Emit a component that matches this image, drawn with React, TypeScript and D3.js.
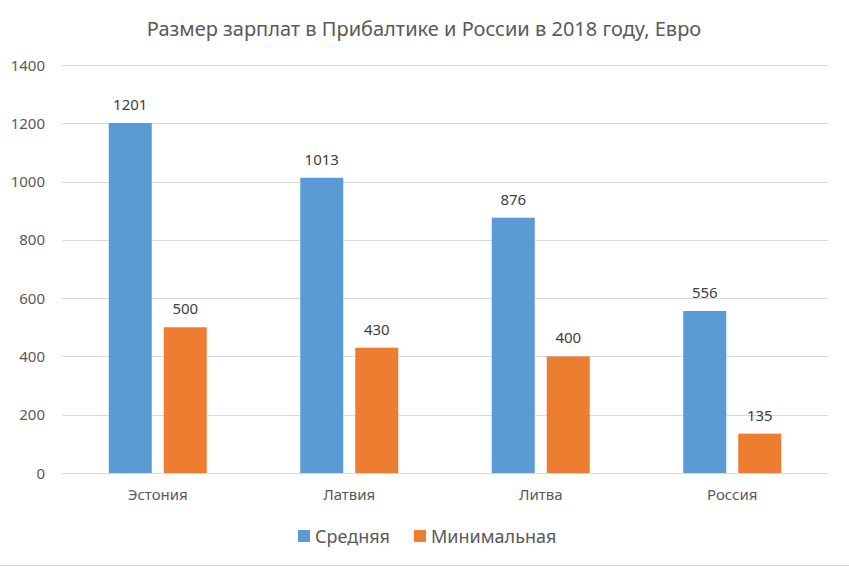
import { useEffect, useRef } from 'react';
import * as d3 from 'd3';

const countries = ['Эстония', 'Латвия', 'Литва', 'Россия'];
const seriesNames = ['Средняя', 'Минимальная'];
const avgSalary = [1201, 1013, 876, 556];
const minSalary = [500, 430, 400, 135];
const yTicks = [0, 200, 400, 600, 800, 1000, 1200, 1400];
const colors = ['#5B9BD5', '#ED7D31'];

const WIDTH = 849;
const HEIGHT = 567;
const FONT = '"Noto Sans", "Open Sans", sans-serif';

export default function App() {
  const svgRef = useRef<SVGSVGElement>(null);

  useEffect(() => {
    if (!svgRef.current) return;
    const svg = d3.select(svgRef.current);
    svg.selectAll('*').remove();

    const margin = { top: 65, right: 21, bottom: 94, left: 62 };
    const innerWidth = WIDTH - margin.left - margin.right;
    const innerHeight = HEIGHT - margin.top - margin.bottom;

    svg.append('rect').attr('width', WIDTH).attr('height', HEIGHT).attr('fill', '#fff');

    const g = svg.append('g').attr('transform', `translate(${margin.left}, ${margin.top})`);

    const x0 = d3.scaleBand().domain(countries).range([0, innerWidth]).padding(0);
    const groupW = 98;
    const x1 = d3.scaleBand()
      .domain(seriesNames)
      .range([(x0.bandwidth() - groupW) / 2, (x0.bandwidth() + groupW) / 2])
      .paddingInner(12 / 55)
      .paddingOuter(0);

    const y = d3.scaleLinear().domain([0, 1400]).range([innerHeight, 0]);

    // gridlines
    g.append('g')
      .selectAll('line')
      .data(yTicks)
      .enter()
      .append('line')
      .attr('x1', 0)
      .attr('x2', innerWidth)
      .attr('y1', d => Math.round(y(d)) + 0.5)
      .attr('y2', d => Math.round(y(d)) + 0.5)
      .attr('stroke', '#D9D9D9')
      .attr('stroke-width', 1);

    // y labels
    g.append('g')
      .selectAll('text')
      .data(yTicks)
      .enter()
      .append('text')
      .attr('x', -17)
      .attr('y', d => y(d) + 5.5)
      .attr('text-anchor', 'end')
      .attr('font-family', FONT)
      .attr('font-size', 15)
      .attr('fill', '#595959')
      .text(d => d);

    const rows = countries.map((c, i) => ({ country: c, values: [avgSalary[i], minSalary[i]] }));

    const groups = g.selectAll('.grp')
      .data(rows)
      .enter()
      .append('g')
      .attr('transform', d => `translate(${x0(d.country)}, 0)`);

    groups.selectAll('rect')
      .data(d => d.values.map((v, j) => ({ name: seriesNames[j], value: v, j })))
      .enter()
      .append('rect')
      .attr('x', d => x1(d.name) || 0)
      .attr('y', d => y(d.value))
      .attr('width', x1.bandwidth())
      .attr('height', d => innerHeight - y(d.value))
      .attr('fill', d => colors[d.j]);

    groups.selectAll('text.val')
      .data(d => d.values.map((v, j) => ({ name: seriesNames[j], value: v })))
      .enter()
      .append('text')
      .attr('class', 'val')
      .attr('x', d => (x1(d.name) || 0) + x1.bandwidth() / 2)
      .attr('y', d => y(d.value) - 13)
      .attr('text-anchor', 'middle')
      .attr('font-family', FONT)
      .attr('font-size', 15)
      .attr('fill', '#404040')
      .text(d => d.value);

    // category labels
    g.append('g')
      .selectAll('text')
      .data(countries)
      .enter()
      .append('text')
      .attr('x', d => (x0(d) || 0) + x0.bandwidth() / 2)
      .attr('y', innerHeight + 27)
      .attr('text-anchor', 'middle')
      .attr('font-family', FONT)
      .attr('font-size', 15)
      .attr('fill', '#595959')
      .text(d => d);

    // title
    svg.append('text')
      .attr('x', 424)
      .attr('y', 36)
      .attr('text-anchor', 'middle')
      .attr('font-family', FONT)
      .attr('font-size', 20)
      .attr('fill', '#595959')
      .text('Размер зарплат в Прибалтике и России в 2018 году, Евро');

    // legend
    const legendX = [298, 414];
    seriesNames.forEach((name, i) => {
      svg.append('rect')
        .attr('x', legendX[i])
        .attr('y', 530)
        .attr('width', 12)
        .attr('height', 12)
        .attr('fill', colors[i]);
      svg.append('text')
        .attr('x', legendX[i] + 17)
        .attr('y', 542.5)
        .attr('font-family', FONT)
        .attr('font-size', 18)
        .attr('fill', '#595959')
        .text(name);
    });

    // bottom border
    svg.append('line')
      .attr('x1', 0)
      .attr('x2', WIDTH)
      .attr('y1', 565.5)
      .attr('y2', 565.5)
      .attr('stroke', '#D9D9D9');
  }, []);

  return (
    <div style={{ position: 'absolute', left: 0, top: 0 }}>
      <svg ref={svgRef} width={WIDTH} height={HEIGHT} style={{ display: 'block' }} />
    </div>
  );
}
